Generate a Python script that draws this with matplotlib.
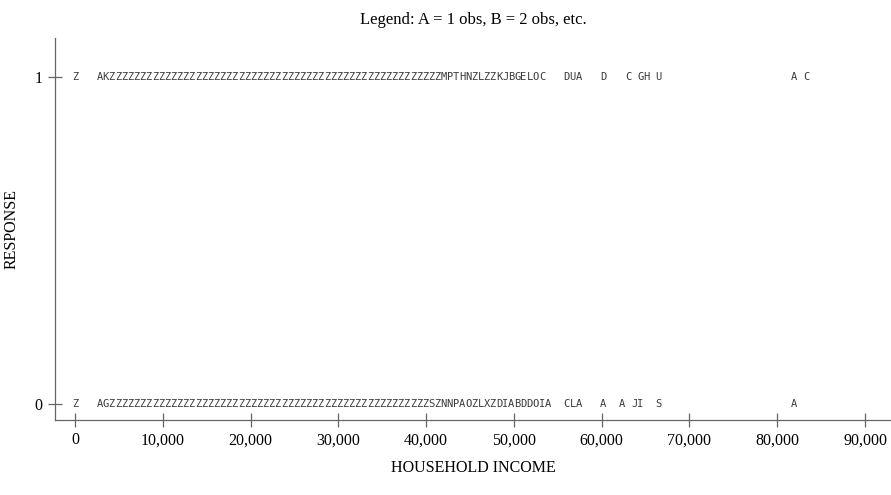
import matplotlib
matplotlib.use("Agg")
import matplotlib.pyplot as plt
from matplotlib.ticker import FuncFormatter

# line-printer style plot: each row is a list of (print column, letters)
# letters code the count of obs in that cell (A = 1, B = 2, ...)
col_width = 700  # household income per print column

row1_segments = [
    (0, "Z"),
    (4, "AK"
        "ZZZZZZZZZZ" "ZZZZZZZZZZ" "ZZZZZZZZZZ" "ZZZZZZZZZZ" "ZZZZZZZZZZ" "ZZZZ"
        "MPTHNZLZZKJBGELOC"),
    (80, "DUA"),
    (86, "D"),
    (90, "C"),
    (92, "GH"),
    (95, "U"),
    (117, "A"),
    (119, "C"),
]

row0_segments = [
    (0, "Z"),
    (4, "AG"
        "ZZZZZZZZZZ" "ZZZZZZZZZZ" "ZZZZZZZZZZ" "ZZZZZZZZZZ" "ZZZZZZZZZZ" "ZZ"
        "SZNNPAOZLXZDIABDDOIA"),
    (80, "CLA"),
    (86, "A"),
    (89, "A"),
    (91, "JI"),
    (95, "S"),
    (117, "A"),
]

rows = {1: row1_segments, 0: row0_segments}
x_ticks = [0, 10000, 20000, 30000, 40000, 50000, 60000, 70000, 80000, 90000]
y_ticks = [0, 1]

serif = "Liberation Serif"
axis_grey = "#666666"

fig = plt.figure(figsize=(8.91, 4.95), dpi=100)
ax = fig.add_axes([55 / 891, 1 - 420 / 495, 1 - 55 / 891, (420 - 38) / 495])

for resp, segs in rows.items():
    for start, letters in segs:
        for i, ch in enumerate(letters):
            ax.text((start + i) * col_width, resp, ch, ha="center", va="center",
                    fontsize=7.5, family="DejaVu Sans Mono", color="#3a3a3a")

ax.set_xlim(-2278, 92960)
ax.set_ylim(-0.049, 1.119)

ax.set_xticks(x_ticks)
ax.set_yticks(y_ticks)
ax.xaxis.set_major_formatter(FuncFormatter(lambda v, p: f"{int(v):,}"))

for s in ["top", "right"]:
    ax.spines[s].set_visible(False)
for s in ["left", "bottom"]:
    ax.spines[s].set_color(axis_grey)
    ax.spines[s].set_linewidth(0.9)

ax.tick_params(axis="both", direction="inout", length=10, width=0.9,
               color=axis_grey, labelsize=11.5, pad=4)
for lbl in ax.get_xticklabels() + ax.get_yticklabels():
    lbl.set_family(serif)

ax.set_xlabel("HOUSEHOLD INCOME", family=serif, fontsize=11.5, labelpad=8)
ax.set_ylabel("RESPONSE", family=serif, fontsize=11.5, labelpad=11)
ax.set_title("Legend: A = 1 obs, B = 2 obs, etc.", family=serif, fontsize=12, pad=10)

fig.savefig("out.png", dpi=100)
